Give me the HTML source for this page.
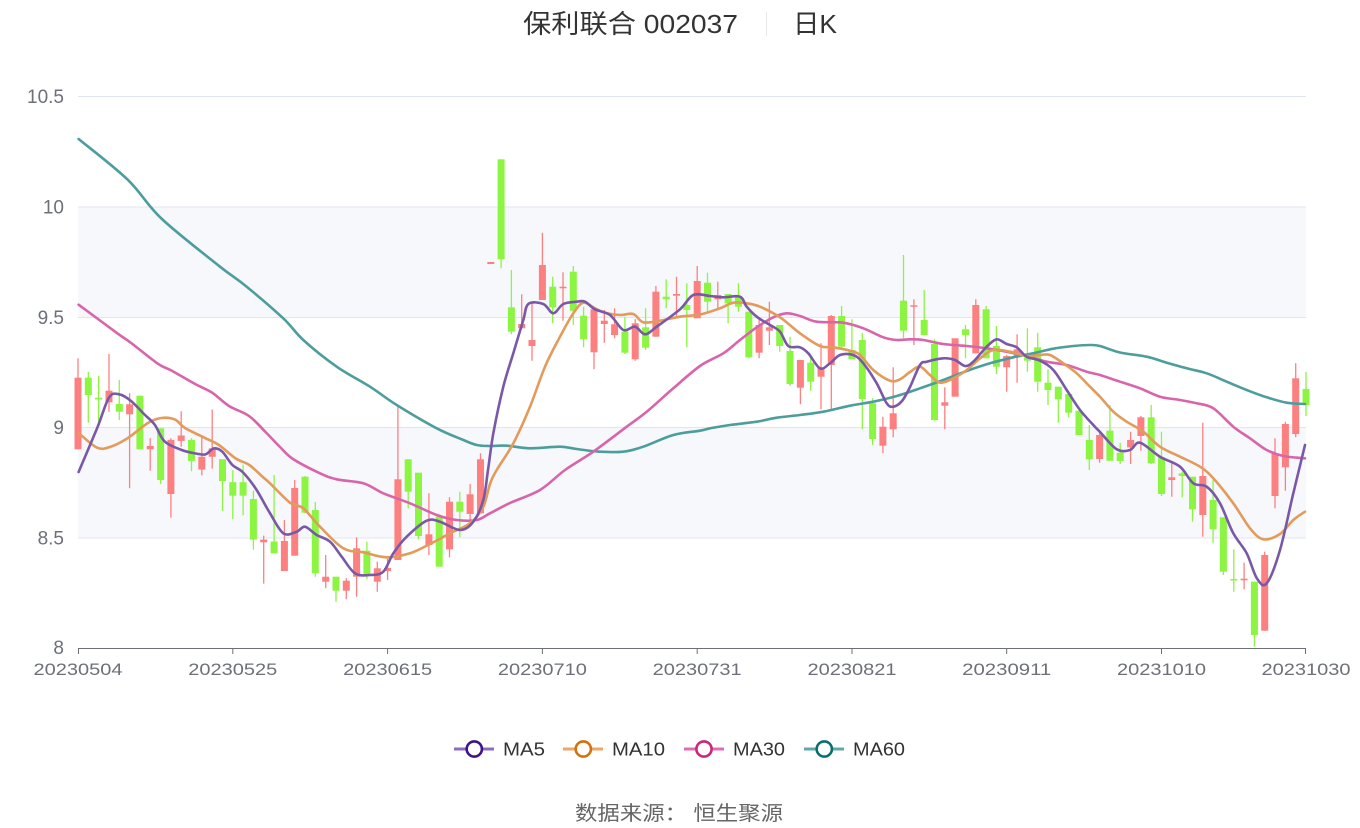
<!DOCTYPE html>
<html><head><meta charset="utf-8"><style>
html,body{margin:0;padding:0;background:#fff;}
svg{display:block;font-family:"Liberation Sans","Noto Sans CJK SC",sans-serif;}
</style></head><body>
<svg id="chart" width="1360" height="828" viewBox="0 0 1360 828" xmlns="http://www.w3.org/2000/svg">
<rect x="0" y="0" width="1360" height="828" fill="#fff"/>
<text x="523" y="33" font-size="26" fill="#333" textLength="215" lengthAdjust="spacingAndGlyphs">保利联合 002037</text>
<line x1="766.5" y1="12" x2="766.5" y2="36" stroke="#e8e8e8" stroke-width="1"/>
<text x="793" y="33" font-size="26" fill="#333" textLength="44" lengthAdjust="spacingAndGlyphs">日K</text>
<rect x="78" y="207" width="1228" height="110.5" fill="#f6f8fc"/>
<rect x="78" y="427.5" width="1228" height="110.5" fill="#f6f8fc"/>
<g stroke="#e0e6f1" stroke-width="1">
<line x1="78" y1="96.5" x2="1306" y2="96.5"/>
<line x1="78" y1="207" x2="1306" y2="207"/>
<line x1="78" y1="317.5" x2="1306" y2="317.5"/>
<line x1="78" y1="427.5" x2="1306" y2="427.5"/>
<line x1="78" y1="538" x2="1306" y2="538"/>
</g>
<g font-size="19" fill="#6e7079" text-anchor="end">
<text x="64" y="103">10.5</text>
<text x="64" y="213.5">10</text>
<text x="64" y="324">9.5</text>
<text x="64" y="434">9</text>
<text x="64" y="544.5">8.5</text>
<text x="64" y="654">8</text>
</g>
<g stroke="#fd8080" stroke-width="1.3" fill="none">
<path d="M78,358.3V449.3M109,354V411.7M129.6,393.3V488.3M150.2,438.3V470.7M170.9,438.2V517.6M181.2,411.2V446.7M201.8,436.5V475.4M212.2,409.5V468.6M263.7,535.6V583.6M284.4,520V571M294.7,480V555.7M325.7,555V588.3M346.3,578.3V599.3M356.6,537.3V596.7M377.3,561.7V591.7M387.6,556.7V580M397.9,406.7V560M428.9,493.3V555M449.5,497.3V557.3M470.1,484V520M480.5,453.3V513.3M521.7,294.3V328.3M532,303.3V360.7M542.4,232.7V300M563,272.3V320.7M594,306.7V369.3M604.3,310V342.7M614.6,308.3V338.3M635.2,319V360.7M655.9,286V336.7M676.5,276.7V318.3M697.2,266V318.3M717.8,281.7V308.3M759.1,318.3V358.3M769.4,301.7V345M800.4,360V404.3M821,343.3V409.3M831.3,315V410.7M882.9,416.7V453.3M893.2,367.3V437.3M913.9,299.3V345M944.8,387.3V429.3M975.8,299.3V353.3M1006.7,355V391.7M1017.1,334.3V382.7M1099.6,433.3V462.7M1130.6,431.7V464M1140.9,416V450.7M1171.8,462.7V496.7M1202.8,422.7V536.7M1244.1,562.7V589.3M1264.7,551.7V630.7M1275,438.3V508.3M1285.4,421.7V490.7M1295.7,363.3V437.3"/>
</g>
<g fill="#fd8080">
<rect x="74.5" y="377.7" width="7" height="71.6"/>
<rect x="105.5" y="390.7" width="7" height="11.6"/>
<rect x="126.1" y="404.3" width="7" height="10"/>
<rect x="146.7" y="446" width="7" height="3.3"/>
<rect x="167.4" y="439.9" width="7" height="54.1"/>
<rect x="177.7" y="435.5" width="7" height="5.4"/>
<rect x="198.3" y="456.8" width="7" height="12.8"/>
<rect x="208.7" y="448.4" width="7" height="8.4"/>
<rect x="260.2" y="539.6" width="7" height="2.7"/>
<rect x="280.9" y="541" width="7" height="30"/>
<rect x="291.2" y="488" width="7" height="67.7"/>
<rect x="322.2" y="576.7" width="7" height="5"/>
<rect x="342.8" y="580.7" width="7" height="10"/>
<rect x="353.1" y="548.3" width="7" height="28.4"/>
<rect x="373.8" y="568.3" width="7" height="13.4"/>
<rect x="384.1" y="568" width="7" height="3"/>
<rect x="394.4" y="479.3" width="7" height="80.7"/>
<rect x="425.4" y="534.3" width="7" height="10.7"/>
<rect x="446" y="501.7" width="7" height="47.6"/>
<rect x="466.6" y="494.3" width="7" height="19.7"/>
<rect x="477" y="459.3" width="7" height="54"/>
<rect x="487.3" y="262" width="7" height="2"/>
<rect x="518.2" y="324" width="7" height="4.3"/>
<rect x="528.5" y="340" width="7" height="6"/>
<rect x="538.9" y="265" width="7" height="35"/>
<rect x="559.5" y="286.7" width="7" height="1.6"/>
<rect x="590.5" y="309.3" width="7" height="43"/>
<rect x="600.8" y="320.7" width="7" height="3.3"/>
<rect x="611.1" y="324.3" width="7" height="10.7"/>
<rect x="631.7" y="323.3" width="7" height="36"/>
<rect x="652.4" y="291.7" width="7" height="45"/>
<rect x="673" y="294" width="7" height="1.7"/>
<rect x="693.7" y="281" width="7" height="37.3"/>
<rect x="714.3" y="295" width="7" height="4.3"/>
<rect x="755.6" y="325" width="7" height="27.7"/>
<rect x="765.9" y="327.3" width="7" height="3.4"/>
<rect x="796.9" y="360" width="7" height="27.7"/>
<rect x="817.5" y="368.3" width="7" height="8.4"/>
<rect x="827.8" y="316" width="7" height="49"/>
<rect x="879.4" y="426.7" width="7" height="19"/>
<rect x="889.7" y="413.3" width="7" height="16"/>
<rect x="910.4" y="305.3" width="7" height="1.5"/>
<rect x="941.3" y="402.3" width="7" height="3.4"/>
<rect x="951.6" y="338.3" width="7" height="58.4"/>
<rect x="972.3" y="305" width="7" height="48.3"/>
<rect x="1003.2" y="356" width="7" height="11.3"/>
<rect x="1013.6" y="349.3" width="7" height="7.4"/>
<rect x="1096.1" y="435" width="7" height="24"/>
<rect x="1127.1" y="440" width="7" height="7.3"/>
<rect x="1137.4" y="417.3" width="7" height="18.7"/>
<rect x="1168.3" y="477.3" width="7" height="2.7"/>
<rect x="1199.3" y="476" width="7" height="39"/>
<rect x="1240.6" y="578.7" width="7" height="1.6"/>
<rect x="1261.2" y="555" width="7" height="75.7"/>
<rect x="1271.5" y="453.3" width="7" height="42.7"/>
<rect x="1281.9" y="424" width="7" height="43.3"/>
<rect x="1292.2" y="378.3" width="7" height="55.7"/>
</g>
<g stroke="#8cf542" stroke-width="1.3" fill="none">
<path d="M88.3,371.7V422.7M98.6,376V422.7M119.3,380V420M160.6,428.3V484M191.5,438.2V471.3M222.5,459.2V510.9M232.8,470.3V519.3M243.1,464.6V515.3M253.4,490.6V549.8M274.1,475V553.3M305,476V513.3M315.3,502V576.7M336,576.7V601.7M366.9,541.7V579.3M408.2,459V508.3M418.5,472.7V539.3M459.8,491.7V537.3M501.1,159.3V268.3M511.4,270V334.3M552.7,276.7V323.3M573.3,266V325M583.6,306.7V347.3M624.9,316.7V354M645.6,308.3V350M666.2,279.3V308.3M686.8,283.3V347.3M707.5,272.7V311.7M728.1,294V323.3M738.4,283.3V311.7M748.8,311.7V358.3M779.7,325V351.7M790,336.7V386M810.7,356.7V390.7M841.6,306V349.3M851.9,319.3V359.3M862.3,332.7V429.3M872.6,398.3V445M903.5,255V338.3M924.2,290V335M934.5,339.3V420.7M965.5,325V358.3M986.1,306V358.3M996.4,326V374M1027.4,328.3V371.7M1037.7,332.7V391.7M1048,369.3V405M1058.3,386.7V422.7M1068.7,394V417.3M1089.3,425V470M1109.9,405V460.7M1120.2,442.7V464M1151.2,405V464M1161.5,431.7V496M1182.2,471.7V497.3M1192.5,476.7V521.7M1213.1,480V543.3M1223.4,517.3V575M1233.8,549.3V591.7M1254.4,581.7V646.7M1306,371.7V416"/>
</g>
<g fill="#8cf542">
<rect x="84.8" y="377.7" width="7" height="17.3"/>
<rect x="95.1" y="397.7" width="7" height="1.8"/>
<rect x="115.8" y="404" width="7" height="7.7"/>
<rect x="136.4" y="395.7" width="7" height="53.6"/>
<rect x="157.1" y="428.3" width="7" height="51.7"/>
<rect x="188" y="439.9" width="7" height="21"/>
<rect x="219" y="459.2" width="7" height="21.9"/>
<rect x="229.3" y="482.2" width="7" height="13.5"/>
<rect x="239.6" y="482.2" width="7" height="13.5"/>
<rect x="249.9" y="499" width="7" height="40.6"/>
<rect x="270.6" y="541.5" width="7" height="11.8"/>
<rect x="301.5" y="476.7" width="7" height="36"/>
<rect x="311.8" y="510" width="7" height="63.3"/>
<rect x="332.5" y="576.7" width="7" height="14"/>
<rect x="363.4" y="550.7" width="7" height="24.3"/>
<rect x="404.7" y="459.3" width="7" height="32.4"/>
<rect x="415" y="472.7" width="7" height="63.3"/>
<rect x="435.7" y="516.7" width="7" height="50"/>
<rect x="456.3" y="501.7" width="7" height="10"/>
<rect x="497.6" y="159.3" width="7" height="100"/>
<rect x="507.9" y="307.3" width="7" height="24.4"/>
<rect x="549.2" y="286.7" width="7" height="20.6"/>
<rect x="569.8" y="271.7" width="7" height="39"/>
<rect x="580.1" y="315.7" width="7" height="23.6"/>
<rect x="621.4" y="331.7" width="7" height="21"/>
<rect x="642.1" y="327.3" width="7" height="20.4"/>
<rect x="662.7" y="296.7" width="7" height="2.6"/>
<rect x="683.3" y="305" width="7" height="5"/>
<rect x="704" y="282.7" width="7" height="19"/>
<rect x="724.6" y="294" width="7" height="9.3"/>
<rect x="734.9" y="296" width="7" height="10.7"/>
<rect x="745.3" y="311.7" width="7" height="45.6"/>
<rect x="776.2" y="325" width="7" height="21"/>
<rect x="786.5" y="351" width="7" height="33"/>
<rect x="807.2" y="362.7" width="7" height="19"/>
<rect x="838.1" y="316" width="7" height="30.7"/>
<rect x="848.4" y="350" width="7" height="9.3"/>
<rect x="858.8" y="340" width="7" height="59"/>
<rect x="869.1" y="403.3" width="7" height="35.7"/>
<rect x="900" y="300.7" width="7" height="30"/>
<rect x="920.7" y="320" width="7" height="15"/>
<rect x="931" y="344" width="7" height="76"/>
<rect x="962" y="329.3" width="7" height="5.7"/>
<rect x="982.6" y="309.3" width="7" height="49"/>
<rect x="992.9" y="346" width="7" height="20.7"/>
<rect x="1023.9" y="357.3" width="7" height="3.4"/>
<rect x="1034.2" y="347.3" width="7" height="34.4"/>
<rect x="1044.5" y="382.7" width="7" height="7.3"/>
<rect x="1054.8" y="386.7" width="7" height="12.6"/>
<rect x="1065.2" y="394" width="7" height="18.7"/>
<rect x="1075.5" y="410.7" width="7" height="24.3"/>
<rect x="1085.8" y="440" width="7" height="19.3"/>
<rect x="1106.4" y="430.7" width="7" height="30"/>
<rect x="1116.7" y="452.7" width="7" height="8.3"/>
<rect x="1147.7" y="417.3" width="7" height="46"/>
<rect x="1158" y="457.3" width="7" height="36.7"/>
<rect x="1178.7" y="473.3" width="7" height="2.7"/>
<rect x="1189" y="476.7" width="7" height="32.6"/>
<rect x="1209.6" y="500" width="7" height="29.3"/>
<rect x="1219.9" y="517.3" width="7" height="54.4"/>
<rect x="1230.3" y="579" width="7" height="1.5"/>
<rect x="1250.9" y="581.7" width="7" height="53.3"/>
<rect x="1302.5" y="389" width="7" height="16"/>
</g>
<g id="ma" fill="none" stroke-width="2.6" stroke-linejoin="round" stroke-linecap="round">
<polyline stroke="#4d9d9d" points="78.6,139 127.6,179.6 161.4,218.5 218.9,265.8 245.9,286.1 283.1,318.2 303.3,340 336.7,366.7 370,386.7 396.7,405 436.7,428.3 463.3,440 476.7,445 490,446 506.7,445.7 530,448.3 560,446.7 576.7,449 600,451.7 623.3,451.7 643.3,446.7 673.3,435 700,430.7 710,428.3 730,425 756.7,421.7 776.7,417.7 800,415 823.3,411.7 850,405.7 873.3,401.7 896.7,396 920,388.3 943.3,380 966.7,371 990,363.3 1013.3,357.3 1033.3,353.3 1053.3,348.7 1073.3,346 1090,345 1100,346 1120,352.5 1146.7,356.7 1166.7,362.7 1186.7,368.3 1206.7,373.3 1226.7,381.7 1246.7,390 1266.7,397.3 1286.7,402.7 1305,404"/>
<polyline stroke="#d865ab" points="78.6,304.7 117.5,333.4 131,342.9 158,363.8 171.6,370.6 195.2,384 212,392.6 229,406 249,416 266,432.5 280,447 293,459 320,473.3 336.7,479.3 363.3,483.3 383.3,493.3 410,503.3 436.7,515 456.7,520 476.7,520 490,513.3 510,503 540,490 565,470 593.3,451.7 626.7,426.7 646.7,411.7 673.3,388.3 700,366 723.3,353.3 740,340 756.7,327.3 773.3,317.3 786.7,313.3 800,316 816.7,321.7 843.3,322.7 863.3,328.3 883.3,337.3 896.7,340 910,339.3 923.3,340 943.3,344 966.7,346 986.7,348.3 1006.7,351.7 1026.7,356 1046.7,361.7 1066.7,365 1086.7,371.7 1100,375 1120,381.7 1140,388.3 1160,396.7 1180,400 1196.7,403.3 1213.3,408.3 1233.3,426.7 1250,438.3 1266.7,450 1283.3,456 1305,458.3"/>
<polyline stroke="#e39b5b" points="78.6,433 97.2,447.7 110.7,446.7 127.6,438.2 147.9,423 161.4,418 175,419.6 185,428 205.4,438.2 218.9,445 235.8,458.5 249.3,465 262.8,477 270,483.3 290,502.7 303.3,508.3 320,526.7 343.3,548.3 363.3,552.3 386.7,557.3 410,553.3 430,544 450,533.3 470,523.3 483.3,506.7 490,484 496.7,470 513.3,443.3 530,406.7 545,366.7 560,336.7 573.3,313.3 583.3,302.7 595,308.3 605,312.7 620,315 633.3,314 643.3,322.3 660,320.7 680,316.7 700,314.5 720,308.3 733.3,302.7 746.7,303.3 760,306.7 780,317.3 800,333.3 820,346 833.3,347.3 850,350.7 860,355 873.3,370 890,380.7 900,379.3 910,372 920,366.7 930,375 940,382.7 953.3,378.3 966.7,370 980,358.3 993.3,350 1010,351.7 1026.7,356 1040,355 1050,355 1063.3,363.3 1076.7,373.3 1090,386.7 1100,396.7 1113.3,411.7 1126.7,421.7 1143.3,431.7 1160,446.7 1180,456.7 1200,466.7 1213.3,478.3 1233.3,503.3 1250,528.3 1263.3,539.3 1280,534 1293.3,520 1305,511.7"/>
<polyline stroke="#7a58a8" points="78.6,472 97.2,428 109,397.6 119.2,394.3 131,401 144.5,414.5 154.7,424.7 164.8,441.6 181.7,450 195.2,453.4 205.4,454.4 213.8,448.4 222.3,451.7 232.4,465 242.6,472 256,489 269.6,512.6 283.3,533.3 296.7,531.7 305,526.7 316.7,535 330,541.7 341.7,556.7 355,573.3 370,575 383.3,571.7 393.3,553.3 406.7,536.7 426.7,520.7 440,521.7 460,530 473.3,521.7 483.3,500 488,470 493.3,433.3 503.3,386.7 513.3,353.3 523.3,320 528.3,304 543.3,304 553.3,313.3 563.3,304 576.7,301.7 585,301.7 595,309.3 610,315 623.3,330 635,326.7 645,334.3 656.7,326.7 680,309.3 693.3,295 710,296 723.3,297.3 740,296.7 746.7,306.7 756.7,316.7 770,325 780,331.7 788.3,346 800,347.3 808.3,353.3 820,368.3 830,363.3 840,355 853.3,355 863.3,363.3 876.7,383.3 886.7,403.3 893.3,406.7 902,401 910,387 920,365 926.7,361.7 943.3,358.3 955,360 965,366 973.3,361.7 986.7,346.7 996.7,339.3 1006.7,344 1016.7,347.3 1026.7,356.7 1040,360.7 1053.3,370 1066.7,390 1080,410 1093.3,425 1100,432 1116.7,449.3 1130,450 1140,442.7 1160,456.7 1180,466.7 1193.3,483.3 1206.7,486.7 1220,503.3 1233.3,533.3 1246.7,553.3 1256.7,578 1266.7,583.3 1280,550 1293.3,493.3 1305,445"/>
</g>
<line x1="78" y1="648.5" x2="1306" y2="648.5" stroke="#6e7079" stroke-width="1"/>
<path d="M78.5,648V654M232.8,648V654M387.6,648V654M542.4,648V654M697.2,648V654M852,648V654M1006.7,648V654M1161.5,648V654M1305.5,648V654" stroke="#6e7079" stroke-width="1"/>
<g font-size="17" fill="#6e7079" text-anchor="middle">
<text x="78" y="675" textLength="89" lengthAdjust="spacingAndGlyphs">20230504</text>
<text x="232.8" y="675" textLength="89" lengthAdjust="spacingAndGlyphs">20230525</text>
<text x="387.6" y="675" textLength="89" lengthAdjust="spacingAndGlyphs">20230615</text>
<text x="542.4" y="675" textLength="89" lengthAdjust="spacingAndGlyphs">20230710</text>
<text x="697.2" y="675" textLength="89" lengthAdjust="spacingAndGlyphs">20230731</text>
<text x="852" y="675" textLength="89" lengthAdjust="spacingAndGlyphs">20230821</text>
<text x="1006.7" y="675" textLength="89" lengthAdjust="spacingAndGlyphs">20230911</text>
<text x="1161.5" y="675" textLength="89" lengthAdjust="spacingAndGlyphs">20231010</text>
<text x="1306" y="675" textLength="89" lengthAdjust="spacingAndGlyphs">20231030</text>
</g>
<g stroke-width="3">
<line x1="454" y1="749" x2="494" y2="749" stroke="#8a6cc0"/>
<circle cx="474.3" cy="749" r="7.6" fill="#fff" stroke="#3d1489" stroke-width="2.6"/>
<line x1="563" y1="749" x2="603" y2="749" stroke="#eea66a"/>
<circle cx="583.3" cy="749" r="7.6" fill="#fff" stroke="#d4700e" stroke-width="2.6"/>
<line x1="684" y1="749" x2="724" y2="749" stroke="#e06cb4"/>
<circle cx="704" cy="749" r="7.6" fill="#fff" stroke="#c8267f" stroke-width="2.6"/>
<line x1="804" y1="749" x2="844" y2="749" stroke="#5fa9a9"/>
<circle cx="824.3" cy="749" r="7.6" fill="#fff" stroke="#0c6f6f" stroke-width="2.6"/>
</g>
<g font-size="18" fill="#333">
<text x="503" y="755.5" textLength="42" lengthAdjust="spacingAndGlyphs">MA5</text>
<text x="612" y="755.5" textLength="53" lengthAdjust="spacingAndGlyphs">MA10</text>
<text x="733" y="755.5" textLength="52" lengthAdjust="spacingAndGlyphs">MA30</text>
<text x="853" y="755.5" textLength="52" lengthAdjust="spacingAndGlyphs">MA60</text>
</g>
<text x="575" y="820" font-size="20" fill="#666" textLength="208" lengthAdjust="spacingAndGlyphs">数据来源： 恒生聚源</text>
</svg>
<script>
(function(){
  var g=document.getElementById('ma');
  if(!g)return;
  var pls=g.querySelectorAll('polyline');
  for(var k=0;k<pls.length;k++){
    var pl=pls[k];
    var raw=pl.getAttribute('points').trim().split(/\s+/);
    var p=[];
    for(var i=0;i<raw.length;i++){var a=raw[i].split(',');p.push([+a[0],+a[1]]);}
    var d='M'+p[0][0]+','+p[0][1];
    for(var i=0;i<p.length-1;i++){
      var p0=p[i>0?i-1:i],p1=p[i],p2=p[i+1],p3=p[i+2<p.length?i+2:i+1];
      var c1x=p1[0]+(p2[0]-p0[0])/6,c1y=p1[1]+(p2[1]-p0[1])/6;
      var c2x=p2[0]-(p3[0]-p1[0])/6,c2y=p2[1]-(p3[1]-p1[1])/6;
      d+='C'+c1x.toFixed(1)+','+c1y.toFixed(1)+' '+c2x.toFixed(1)+','+c2y.toFixed(1)+' '+p2[0]+','+p2[1];
    }
    var path=document.createElementNS('http://www.w3.org/2000/svg','path');
    path.setAttribute('d',d);
    path.setAttribute('stroke',pl.getAttribute('stroke'));
    g.replaceChild(path,pl);
  }
})();
</script>
</body></html>
